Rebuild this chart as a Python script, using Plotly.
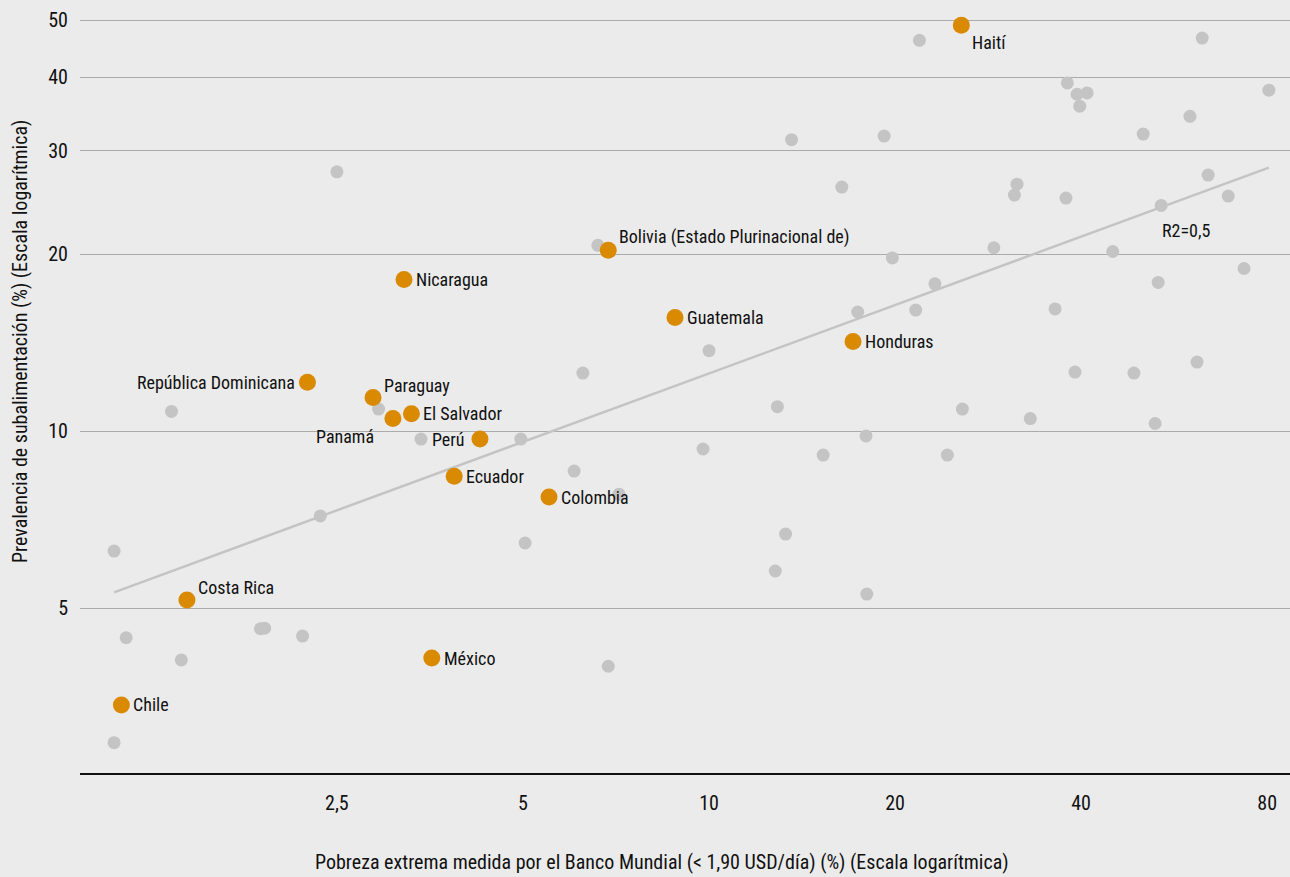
import numpy as np
import plotly.graph_objects as go

# ---------------- data ----------------
# Highlighted Latin American countries: extreme poverty (%) and undernourishment (%)
countries = ["Haití", "Bolivia (Estado Plurinacional de)", "Nicaragua", "Guatemala", "Honduras",
             "República Dominicana", "Paraguay", "El Salvador", "Panamá", "Perú",
             "Ecuador", "Colombia", "Costa Rica", "México", "Chile"]
country_poverty = [25.6, 6.87, 3.21, 8.81, 17.1, 2.24, 2.86, 3.30, 3.08, 4.26,
                   3.87, 5.51, 1.43, 3.56, 1.12]
country_undernourish = [49.0, 20.3, 18.1, 15.6, 14.2, 12.1, 11.4, 10.7, 10.5, 9.69,
                        8.38, 7.72, 5.16, 4.11, 3.42]

# Other countries of the world
other_poverty = [21.9, 62.8, 38.0, 39.4, 40.9, 39.8, 80.5, 13.6, 19.2, 50.4,
                 60.0, 2.50, 16.4, 31.5, 31.2, 37.8, 64.2, 69.2, 53.9, 6.61,
                 19.8, 28.9, 45.0, 73.4, 23.2, 53.3, 21.6, 17.4, 36.3, 10.0,
                 6.25, 61.6, 39.1, 48.7, 1.35, 2.92, 12.9, 25.7, 3.42, 4.96,
                 17.95, 33.1, 52.7, 9.78, 15.3, 24.3, 6.05, 7.15, 2.35, 13.3,
                 5.04, 1.09, 12.8, 18.0, 1.14, 1.88, 1.91, 2.20, 1.40, 6.87,
                 1.09]
other_undernourish = [46.2, 46.6, 39.1, 37.4, 37.6, 35.7, 38.0, 31.3, 31.75, 32.0,
                      34.3, 27.6, 26.0, 26.3, 25.2, 24.9, 27.25, 25.1, 24.2, 20.7,
                      19.7, 20.5, 20.2, 18.9, 17.8, 17.9, 16.06, 15.94, 16.13, 13.7,
                      12.55, 13.1, 12.6, 12.55, 10.8, 10.9, 11.0, 10.9, 9.69, 9.69,
                      9.81, 10.5, 10.3, 9.32, 9.10, 9.10, 8.55, 7.81, 7.17, 6.68,
                      6.45, 6.25, 5.78, 5.28, 4.45, 4.61, 4.62, 4.48, 4.08, 3.98,
                      2.95]

# Log-log trend: log10(y) = a + b * log10(x)
trend_a = 0.7112
trend_b = 0.3867
r2_text = "R2=0,5"
r2_pos = (53.7, 21.9)

x_tickvals = [2.5, 5, 10, 20, 40, 80]
x_ticktext = ["2,5", "5", "10", "20", "40", "80"]
y_tickvals = [5, 10, 20, 30, 40, 50]
y_ticktext = ["5", "10", "20", "30", "40", "50"]

x_title = "Pobreza extrema medida por el Banco Mundial (< 1,90 USD/día) (%) (Escala logarítmica)"
y_title = "Prevalencia de subalimentación (%) (Escala logarítmica)"

# ---------------- styling ----------------
FONT = "Roboto Condensed, Liberation Sans Narrow, sans-serif"
TXT = "#111111"
BG = "#EBEBEB"
GRAY = "#C4C4C4"
ORANGE = "#D98A00"
GRID = "#ABABAB"

# label placement: (xanchor, xshift, yshift)
label_style = {
    "Haití": ("left", 9, -17),
    "Bolivia (Estado Plurinacional de)": ("left", 9, 13),
    "Nicaragua": ("left", 10, 0),
    "Guatemala": ("left", 10, 0),
    "Honduras": ("left", 10, 0),
    "República Dominicana": ("right", -10, 0),
    "Paraguay": ("left", 9, 12),
    "El Salvador": ("left", 10, 0),
    "Panamá": ("right", -17, -18),
    "Perú": ("right", -14, 0),
    "Ecuador": ("left", 10, 0),
    "Colombia": ("left", 10, 0),
    "Costa Rica": ("left", 9, 12),
    "México": ("left", 10, 0),
    "Chile": ("left", 10, 0),
}

all_x = other_poverty + country_poverty
tx = np.array([min(all_x), max(all_x)])
ty = 10 ** (trend_a + trend_b * np.log10(tx))

fig = go.Figure()
fig.add_trace(go.Scatter(x=tx, y=ty, mode="lines",
                         line=dict(color=GRAY, width=2.5), hoverinfo="skip", showlegend=False))
fig.add_trace(go.Scatter(x=other_poverty, y=other_undernourish, mode="markers",
                         marker=dict(color=GRAY, size=13, line=dict(width=0)), showlegend=False))
fig.add_trace(go.Scatter(x=country_poverty, y=country_undernourish, mode="markers",
                         marker=dict(color=ORANGE, size=17, line=dict(width=0)),
                         text=countries, showlegend=False))

annotations = []
for name, xv, yv in zip(countries, country_poverty, country_undernourish):
    anchor, xs, ys = label_style[name]
    annotations.append(dict(x=np.log10(xv), y=np.log10(yv), xref="x", yref="y",
                            text=name, showarrow=False, xanchor=anchor, yanchor="middle",
                            xshift=xs, yshift=ys, font=dict(family=FONT, size=18, color=TXT)))
annotations.append(dict(x=np.log10(r2_pos[0]), y=np.log10(r2_pos[1]), xref="x", yref="y",
                        text=r2_text, showarrow=False, xanchor="left", yanchor="middle",
                        font=dict(family=FONT, size=18, color=TXT)))
annotations.append(dict(x=(20 - 80) / 1210, y=(773 - 342) / 773, xref="paper", yref="paper",
                        text=y_title, showarrow=False, textangle=-90,
                        xanchor="center", yanchor="middle",
                        font=dict(family=FONT, size=20, color=TXT)))
annotations.append(dict(x=(662 - 80) / 1210, y=(773 - 862) / 773, xref="paper", yref="paper",
                        text=x_title, showarrow=False, xanchor="center", yanchor="middle",
                        font=dict(family=FONT, size=20, color=TXT)))

fig.update_layout(
    width=1290, height=877,
    margin=dict(l=80, r=0, t=0, b=104),
    paper_bgcolor=BG, plot_bgcolor=BG,
    font=dict(family=FONT, size=18, color=TXT),
    annotations=annotations,
    showlegend=False,
)
fig.update_xaxes(type="log", range=[np.log10(0.96), np.log10(87.1)],
                 tickvals=x_tickvals, ticktext=x_ticktext,
                 showgrid=False, zeroline=False,
                 showline=True, linecolor="#111111", linewidth=1.5,
                 ticks="", ticklabelstandoff=11,
                 tickfont=dict(family=FONT, size=20, color=TXT))
fig.update_yaxes(type="log", range=[np.log10(2.62), np.log10(54.1)],
                 tickvals=y_tickvals, ticktext=y_ticktext,
                 showgrid=True, gridcolor=GRID, gridwidth=1,
                 zeroline=False, showline=False, ticks="", ticklabelstandoff=11,
                 tickfont=dict(family=FONT, size=20, color=TXT))

fig.write_html("out.html", config={"displayModeBar": False},
               post_script="document.body.style.margin='0';document.body.style.background='#EBEBEB';")
